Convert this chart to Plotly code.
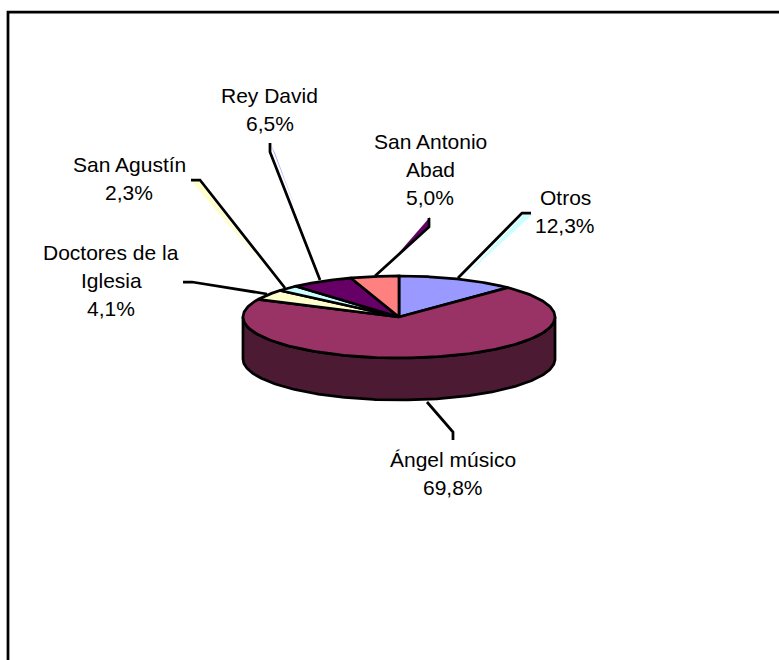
import numpy as np
import plotly.graph_objects as go

# Data
labels = ["Otros", "Ángel músico", "Doctores de la Iglesia", "San Agustín", "Rey David", "San Antonio Abad"]
values = [12.3, 69.8, 4.1, 2.3, 6.5, 5.0]
colors = ["#9999FF", "#993366", "#FFFFCC", "#CCFFFF", "#660066", "#FF8080"]
side_color = "#4D1A33"
label_lines = [["Otros"], ["Ángel músico"], ["Doctores de la", "Iglesia"], ["San Agustín"], ["Rey David"], ["San Antonio", "Abad"]]
label_x = [565, 453, 111, 129, 269.5, 430]
label_bottom = [239, 501, 322, 206, 137, 211]
leaders = [
    [(458, 278), (522, 213), (531, 213)],
    [(427, 402), (453, 432), (453, 440)],
    [(267, 294), (192, 282), (183, 282)],
    [(285, 288), (200, 180), (191, 180)],
    [(320, 280), (270, 152), (270, 143)],
    [(375, 276), (429, 227), (429, 218)],
]
leader_shadows = [
    ("#CCFFFF", [(524, 214), (533, 214), (462, 279)]),
    ("#FFFFCC", [(191, 181), (199, 181), (262, 264)]),
    ("#9999FF", [(271, 145), (275, 153), (295, 207)]),
    ("#660066", [(430, 217), (430, 227), (390, 263)]),
]
frame_x = [8, 8, 779]
frame_y = [670, 12, 12]
cx, cy, rx, ry, depth = 399, 317, 156, 41, 42
LINE = 2.75
FONT = 21
LEAD = 28

fig = go.Figure()

def poly(xs, ys, fill=None, width=LINE, color="black"):
    fig.add_trace(go.Scatter(x=list(xs), y=list(ys), mode="lines",
                             fill="toself" if fill else None, fillcolor=fill,
                             line=dict(color=color, width=width, shape="linear"),
                             hoverinfo="skip", showlegend=False))

poly(frame_x, frame_y)

# Pie geometry comes from the values
fractions = np.array(values) / sum(values)
edges = np.concatenate([[0], np.cumsum(fractions)]) * 2 * np.pi

# Side wall: front half of the ellipse, extruded downwards
t = np.linspace(np.pi / 2, 3 * np.pi / 2, 200)
wx = cx + rx * np.sin(t)
wy = cy - ry * np.cos(t)
poly(np.r_[wx, wx[::-1], wx[0]], np.r_[wy, wy[::-1] + depth, wy[0]], fill=side_color)

# Top slices
for i, c in enumerate(colors):
    t = np.linspace(edges[i], edges[i + 1], 200)
    poly(np.r_[cx, cx + rx * np.sin(t), cx], np.r_[cy, cy - ry * np.cos(t), cy], fill=c)

# Leader lines with their coloured shadows
for c, pts in leader_shadows:
    xs, ys = zip(*pts)
    poly(xs, ys, fill=c, width=0, color=c)
for pts in leaders:
    xs, ys = zip(*pts)
    poly(xs, ys)

# Labels
for lines, v, x, bottom in zip(label_lines, values, label_x, label_bottom):
    rows = lines + [f"{v:.1f}%".replace(".", ",")]
    for k, row in enumerate(rows):
        y = bottom - LEAD * (len(rows) - 1 - k)
        fig.add_annotation(x=x, y=y, text=row, showarrow=False, xanchor="center", yanchor="bottom",
                           font=dict(family="Liberation Sans, Arial", size=FONT, color="black"))

fig.update_layout(width=779, height=660, margin=dict(l=0, r=0, t=0, b=0),
                  paper_bgcolor="white", plot_bgcolor="white", showlegend=False,
                  xaxis=dict(range=[0, 779], visible=False, fixedrange=True),
                  yaxis=dict(range=[660, 0], visible=False, fixedrange=True))

fig.write_html("out.html", config=dict(displayModeBar=False),
               post_script="document.body.style.margin='0';document.documentElement.style.overflow='hidden';")
